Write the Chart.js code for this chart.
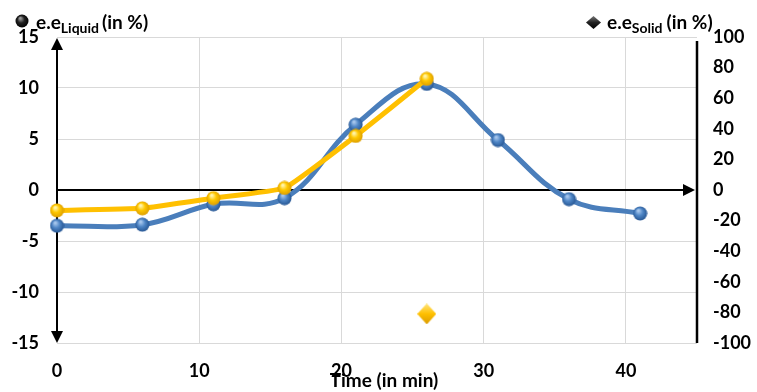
<!DOCTYPE html>
<html>
<head>
<meta charset="utf-8">
<script src="https://cdn.jsdelivr.net/npm/chart.js@4/dist/chart.umd.min.js"></script>
<style>
  html, body { margin: 0; padding: 0; background: #fff; }
  #wrap { width: 757px; height: 392px; }
</style>
</head>
<body>
<div id="wrap"><canvas id="chart"></canvas></div>
<script>
// Data
const timeBlue = [0, 6, 11, 16, 21, 26, 31, 36, 41];
const eeLiquidBlue = [-3.5, -3.4, -1.4, -0.8, 6.4, 10.4, 4.9, -0.9, -2.3];
const timeYellow = [0, 6, 11, 16, 21, 26];
const eeLiquidYellow = [-2.0, -1.8, -0.8, 0.2, 5.3, 10.9];
const timeSolid = [26];
const eeSolid = [-81];

const xTicks = [0, 10, 20, 30, 40];
const leftTicks = [-15, -10, -5, 0, 5, 10, 15];
const rightTicks = [-100, -80, -60, -40, -20, 0, 20, 40, 60, 80, 100];

const FONT = 'Lato, "Open Sans", sans-serif';
const BLUE = '#4a7ebb';
const YELLOW = '#ffc000';

// shaded sphere marker
function sphere(light, mid, dark, size) {
    const c = document.createElement('canvas');
    c.width = size; c.height = size;
    const g = c.getContext('2d');
    const r = size / 2;
    const grad = g.createRadialGradient(r * 0.75, r * 0.6, r * 0.1, r, r, r);
    grad.addColorStop(0, light);
    grad.addColorStop(0.45, mid);
    grad.addColorStop(1, dark);
    g.fillStyle = grad;
    g.beginPath();
    g.arc(r, r, r - 0.5, 0, Math.PI * 2);
    g.fill();
    return c;
}

function diamond(light, mid, dark, w, h) {
    const c = document.createElement('canvas');
    c.width = w; c.height = h;
    const g = c.getContext('2d');
    const grad = g.createLinearGradient(0, 0, 0, h);
    grad.addColorStop(0, light);
    grad.addColorStop(0.5, mid);
    grad.addColorStop(1, dark);
    g.fillStyle = grad;
    g.beginPath();
    g.moveTo(w / 2, 0);
    g.lineTo(w, h / 2);
    g.lineTo(w / 2, h);
    g.lineTo(0, h / 2);
    g.closePath();
    g.fill();
    return c;
}

const blueBall = sphere('#a9c8ee', '#4f86c6', '#23528f', 15);
const yellowBall = sphere('#fff6b0', '#ffc800', '#d99a00', 15);
const yellowDiamond = diamond('#ffe680', '#ffc000', '#d99a00', 19, 21);

function arrowHead(ctx, x, y, dir, len, half) {
    ctx.beginPath();
    if (dir === 'up') { ctx.moveTo(x, y); ctx.lineTo(x - half, y + len); ctx.lineTo(x + half, y + len); }
    if (dir === 'down') { ctx.moveTo(x, y); ctx.lineTo(x - half, y - len); ctx.lineTo(x + half, y - len); }
    if (dir === 'right') { ctx.moveTo(x, y); ctx.lineTo(x - len, y - half); ctx.lineTo(x - len, y + half); }
    ctx.closePath();
    ctx.fill();
}

// axes with arrows, drawn under the series
const axesPlugin = {
    id: 'axesPlugin',
    beforeDatasetsDraw(chart) {
        const { ctx, chartArea: a, scales } = chart;
        const y0 = scales.y.getPixelForValue(0);
        const x0 = scales.x.getPixelForValue(0);
        ctx.save();
        ctx.strokeStyle = '#000';
        ctx.fillStyle = '#000';
        // x axis through 0
        ctx.lineWidth = 2;
        ctx.beginPath();
        ctx.moveTo(x0, y0);
        ctx.lineTo(a.right - 12, y0);
        ctx.stroke();
        arrowHead(ctx, a.right - 2, y0, 'right', 12, 6);
        // left axis, arrows both ends
        ctx.beginPath();
        ctx.moveTo(x0, a.top + 10);
        ctx.lineTo(x0, a.bottom - 10);
        ctx.stroke();
        arrowHead(ctx, x0, a.top + 1, 'up', 12, 6);
        arrowHead(ctx, x0, a.bottom, 'down', 12, 6);
        // right axis
        ctx.lineWidth = 2.5;
        ctx.beginPath();
        ctx.moveTo(a.right, a.top + 4);
        ctx.lineTo(a.right, a.bottom);
        ctx.stroke();
        ctx.restore();
    },
    afterDraw(chart) {
        const { ctx } = chart;
        ctx.save();
        // x title
        ctx.fillStyle = '#000';
        ctx.font = 'bold 19px ' + FONT;
        ctx.textAlign = 'center';
        ctx.textBaseline = 'middle';
        ctx.fillText('Time (in min)', 384, 381);

        // series labels at the top
        function label(x, parts) {
            ctx.textAlign = 'left';
            ctx.textBaseline = 'alphabetic';
            let cx = x;
            parts.forEach(p => {
                ctx.font = 'bold ' + p.size + 'px ' + FONT;
                ctx.fillText(p.t, cx, p.y);
                cx += ctx.measureText(p.t).width + (p.gap || 0);
            });
        }
        ctx.drawImage(sphere('#9a9a9a', '#222', '#000', 14), 15, 14);
        label(36, [
            { t: 'e.e', size: 19, y: 29 },
            { t: 'Liquid', size: 14, y: 33, gap: 3 },
            { t: '(in %)', size: 19, y: 29 }
        ]);
        ctx.drawImage(diamond('#777', '#222', '#000', 15, 13), 586, 16);
        label(607, [
            { t: 'e.e', size: 19, y: 29 },
            { t: 'Solid', size: 14, y: 33, gap: 4 },
            { t: '(in %)', size: 19, y: 29 }
        ]);
        ctx.restore();
    }
};

new Chart(document.getElementById('chart'), {
    type: 'scatter',
    data: {
        datasets: [
            {
                label: 'e.e Liquid (yellow)',
                data: timeYellow.map((t, i) => ({ x: t, y: eeLiquidYellow[i] })),
                yAxisID: 'y',
                showLine: true,
                borderColor: YELLOW,
                borderWidth: 5,
                tension: 0.1,
                pointStyle: yellowBall,
                clip: false,
                order: 0
            },
            {
                label: 'e.e Liquid (blue)',
                data: timeBlue.map((t, i) => ({ x: t, y: eeLiquidBlue[i] })),
                yAxisID: 'y',
                showLine: true,
                borderColor: BLUE,
                borderWidth: 5,
                tension: 0.4,
                pointStyle: blueBall,
                clip: false,
                order: 1
            },
            {
                label: 'e.e Solid',
                data: timeSolid.map((t, i) => ({ x: t, y: eeSolid[i] })),
                yAxisID: 'y1',
                showLine: false,
                pointStyle: yellowDiamond,
                clip: false,
                order: 0
            }
        ]
    },
    options: {
        responsive: true,
        maintainAspectRatio: false,
        animation: false,
        layout: { padding: { top: 37, left: 0, right: 0, bottom: 0 } },
        plugins: {
            legend: { display: false },
            tooltip: { enabled: false }
        },
        scales: {
            x: {
                type: 'linear',
                min: 0,
                max: 45,
                afterBuildTicks: s => { s.ticks = xTicks.map(v => ({ value: v })); },
                afterFit: s => { s.height = 49; },
                border: { display: false },
                grid: {
                    drawTicks: false,
                    lineWidth: 1,
                    color: c => c.tick && c.tick.value === 0 ? 'rgba(0,0,0,0)' : '#d9d9d9'
                },
                ticks: {
                    padding: 17,
                    color: '#000',
                    font: { family: FONT, size: 18, weight: 'bold' }
                }
            },
            y: {
                position: 'left',
                min: -15,
                max: 15,
                afterBuildTicks: s => { s.ticks = leftTicks.map(v => ({ value: v })); },
                afterFit: s => { s.width = 57; },
                border: { display: false },
                grid: {
                    drawTicks: false,
                    lineWidth: 1,
                    color: c => c.tick && c.tick.value === 0 ? 'rgba(0,0,0,0)' : '#d9d9d9'
                },
                ticks: {
                    padding: 18,
                    color: '#000',
                    font: { family: FONT, size: 18, weight: 'bold' }
                }
            },
            y1: {
                position: 'right',
                min: -100,
                max: 100,
                afterBuildTicks: s => { s.ticks = rightTicks.map(v => ({ value: v })); },
                afterFit: s => { s.width = 60; },
                border: { display: false },
                grid: { display: false, drawTicks: false },
                ticks: {
                    padding: 16,
                    color: '#000',
                    font: { family: FONT, size: 18, weight: 'bold' }
                }
            }
        }
    },
    plugins: [axesPlugin]
});
</script>
</body>
</html>
